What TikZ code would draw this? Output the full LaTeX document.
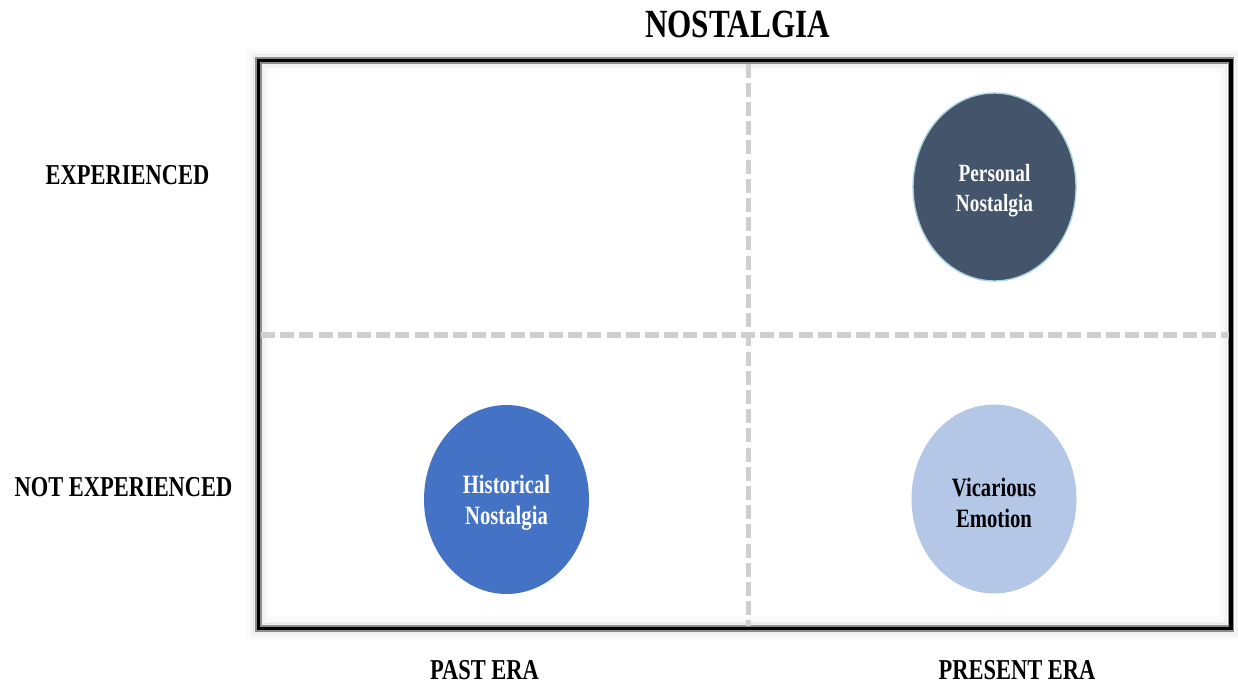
\documentclass[tikz,border=0pt]{standalone}
\usepackage{fontspec}
\setmainfont{Liberation Serif}[FakeStretch=0.78]
\usetikzlibrary{shapes.geometric}
\definecolor{divgray}{HTML}{CFCFCF}
\definecolor{personalfill}{HTML}{44546A}
\definecolor{personalrim}{HTML}{A9D3DE}
\definecolor{histfill}{HTML}{4472C4}
\definecolor{vicfill}{HTML}{B4C7E7}
\begin{document}
\begin{tikzpicture}[x=1pt,y=-1pt,
  lbl/.style={font=\bfseries\fontsize{28.8}{32}\selectfont, anchor=base, inner sep=0pt},
  bubble/.style={ellipse, minimum width=165pt, minimum height=189pt, inner sep=0pt},
  bubbletext/.style={align=center, inner sep=0pt, yshift=-3.5pt,
    font=\bfseries\fontsize{26.5}{31}\selectfont},
  divider/.style={draw=divgray, line width=5.5pt, dash pattern=on 14pt off 5.2pt},
  framegray/.style={draw=black!45, line width=6.5pt},
  frameblack/.style={draw=black, line width=3.4pt}]
\useasboundingbox (0,0) rectangle (1238,685);
% frame corners
\coordinate (tl) at (258.3,60.5);
\coordinate (br) at (1231,628.3);
% soft outer and inner shadow
\foreach \i in {1,...,10}{
  \pgfmathsetmacro{\op}{0.07*(1-\i/11)*(1-\i/11)}
  \pgfmathsetmacro{\d}{3+1.2*\i}
  \draw[black, opacity=\op, line width=1.3pt] ([shift={(-\d,-\d)}]tl) rectangle ([shift={(\d,\d)}]br);
  \draw[black, opacity=\op, line width=1.3pt] ([shift={(\d,\d)}]tl) rectangle ([shift={(-\d,-\d)}]br);
}
% frame
\draw[framegray] (tl) rectangle (br);
\draw[frameblack] (tl) rectangle (br);
% dividers
\coordinate (vtop) at (748.3,63.5);
\coordinate (vbot) at (748.3,626);
\coordinate (hleft) at (261,335);
\coordinate (hright) at (1229,335);
\draw[divider] (hleft) -- (hright);
\draw[divider] (vtop) -- (vbot);
% title and axis labels
\node[lbl, font=\bfseries\fontsize{40}{44}\selectfont] (title) at (737.5,37.3) {NOSTALGIA};
\node[lbl] (exp) at (127.5,184.3) {EXPERIENCED};
\node[lbl] (notexp) at (123.5,496) {NOT EXPERIENCED};
\node[lbl] (past) at (484.5,679.3) {PAST ERA};
\node[lbl] (present) at (1017,679.3) {PRESENT ERA};
% bubbles
\node[bubble, fill=personalfill, draw=personalrim, line width=1.4pt,
  minimum width=163pt, minimum height=188pt] (personal) at (994.5,187) {};
\node[bubble, fill=histfill] (historical) at (506.5,499.5) {};
\node[bubble, fill=vicfill] (vicarious) at (994,499) {};
\node[bubbletext, text=white, font=\bfseries\fontsize{24.7}{30}\selectfont]
  (personal-text) at (personal.center) {Personal\\Nostalgia};
\node[bubbletext, text=white] (historical-text) at (historical.center) {Historical\\Nostalgia};
\node[bubbletext, text=black] (vicarious-text) at (vicarious.center) {Vicarious\\Emotion};
\end{tikzpicture}
\end{document}
